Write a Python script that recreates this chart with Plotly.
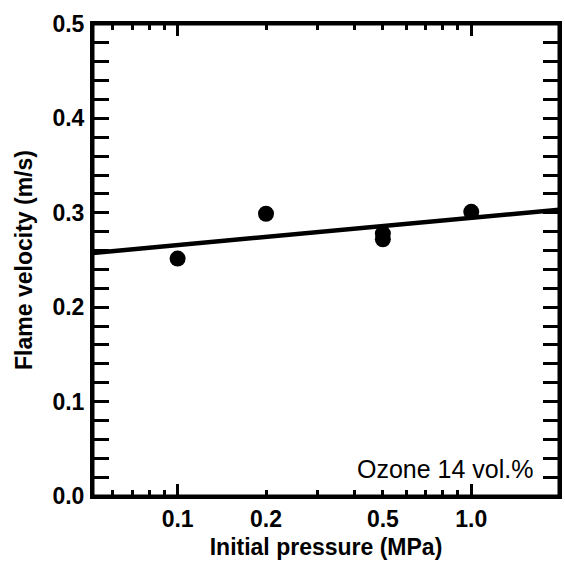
import numpy as np
import plotly.graph_objects as go

# measured points
pressure = [0.1, 0.2, 0.5, 0.5, 1.0]
velocity = [0.2515, 0.299, 0.272, 0.278, 0.301]

# fitted line ends
fit_p = [0.0515, 1.99]
fit_v = [0.2574, 0.3033]

x_ticks = [0.1, 0.2, 0.5, 1.0]
x_ticktext = ['0.1', '0.2', '0.5', '1.0']
x_minor = [0.06, 0.07, 0.08, 0.09, 0.3, 0.4, 0.6, 0.7, 0.8, 0.9]
x_decades = [0.1, 1.0]
y_ticks = [0.0, 0.1, 0.2, 0.3, 0.4, 0.5]

label_font = dict(family='Liberation Sans', size=23, color='black', weight='bold')
title_font = dict(family='Liberation Sans', size=23, color='black', weight='bold')

fig = go.Figure()

fig.add_trace(go.Scatter(x=fit_p, y=fit_v, mode='lines',
                         line=dict(color='black', width=4.5), showlegend=False))
fig.add_trace(go.Scatter(x=pressure, y=velocity, mode='markers',
                         marker=dict(color='black', size=16), showlegend=False))
# invisible trace to carry the long decade ticks
fig.add_trace(go.Scatter(x=fit_p, y=fit_v, mode='lines', xaxis='x2',
                         line=dict(width=0), hoverinfo='skip', showlegend=False))

xrange = [np.log10(fit_p[0]), np.log10(fit_p[1])]

fig.update_layout(
    width=565, height=563,
    margin=dict(l=93, r=3, t=24, b=67),
    plot_bgcolor='white', paper_bgcolor='white',
    xaxis=dict(
        type='log', range=xrange,
        tickvals=x_ticks, ticktext=x_ticktext, tickfont=label_font,
        ticks='inside', ticklen=6, tickwidth=2.5, tickcolor='black',
        minor=dict(tickvals=x_minor, ticks='inside', ticklen=6, tickwidth=2.5, tickcolor='black'),
        showline=True, linewidth=3, linecolor='black', mirror='allticks',
        showgrid=False, zeroline=False,
        title=dict(text='Initial pressure (MPa)', font=title_font, standoff=9),
    ),
    xaxis2=dict(
        type='log', range=xrange, overlaying='x', side='bottom',
        tickvals=x_decades, showticklabels=False,
        ticks='inside', ticklen=12, tickwidth=2.5, tickcolor='black',
        mirror='ticks', showline=False, showgrid=False, zeroline=False,
    ),
    yaxis=dict(
        range=[0, 0.5], tickvals=y_ticks, tickformat='.1f', tickfont=label_font,
        ticks='inside', ticklen=16, tickwidth=2.5, tickcolor='black',
        minor=dict(dtick=0.02, ticks='inside', ticklen=9, tickwidth=2.5, tickcolor='black'),
        showline=True, linewidth=3, linecolor='black', mirror='allticks',
        showgrid=False, zeroline=False, ticklabelstandoff=1,
        title=dict(text='Flame velocity (m/s)', font=title_font, standoff=14),
    ),
    # frame box, the overlaid axis drops the right spine otherwise
    shapes=[dict(type='rect', xref='paper', yref='paper', x0=0, x1=1, y0=0, y1=1,
                 line=dict(color='black', width=3), layer='above')],
    annotations=[dict(
        text='Ozone 14 vol.%', xref='paper', yref='paper', x=0.951, y=0.057,
        xanchor='right', yanchor='middle', showarrow=False,
        font=dict(family='Liberation Sans', size=25, color='black'),
    )],
)

# drop the default page margin and scrollbars so the figure fills the window
fig.write_html('out.html',
               post_script="document.body.style.margin='0px';document.body.style.overflow='hidden';",
               config={'displayModeBar': False})
